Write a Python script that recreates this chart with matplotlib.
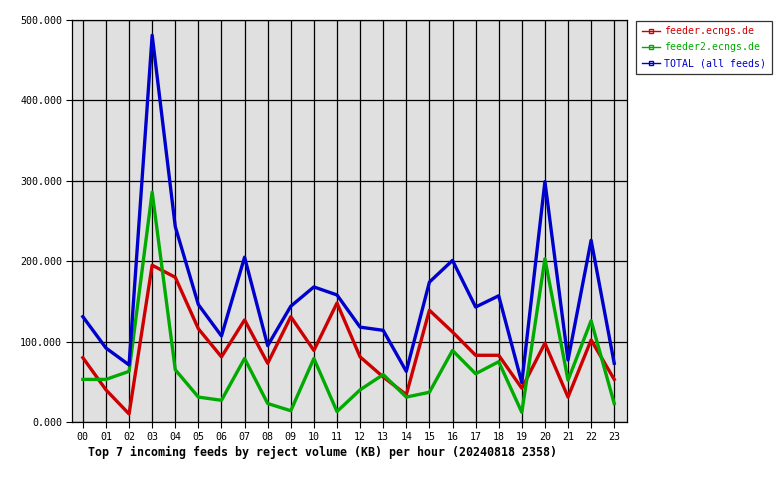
import matplotlib
matplotlib.use("Agg")
import matplotlib.pyplot as plt

# Stunden und Werte (KB) pro Feed
hours = ["%02d" % h for h in range(24)]
feeder = [80, 40, 10, 195, 180, 116, 81, 127, 73, 131, 89, 148,
          81, 56, 34, 139, 112, 83, 83, 42, 98, 31, 102, 53]
feeder2 = [53, 53, 63, 286, 65, 31, 27, 79, 23, 14, 79, 13,
           40, 59, 31, 37, 89, 60, 75, 12, 203, 52, 126, 23]
total = [131, 92, 71, 481, 243, 146, 107, 205, 95, 144, 168, 158,
         118, 114, 63, 174, 201, 143, 157, 49, 299, 77, 226, 73]
yticks = [0, 100, 200, 300, 400, 500]

plt.rcParams['font.family'] = ['DejaVu Sans Mono']

fig = plt.figure(figsize=(7.8, 4.8), dpi=100)
ax = fig.add_axes([72 / 780, 58 / 480, (626.7 - 72) / 780, 402 / 480])
ax.set_facecolor('#e0e0e0')

x = list(range(len(hours)))
series = [(feeder, '#cc0000', 'feeder.ecngs.de'),
          (feeder2, '#00aa00', 'feeder2.ecngs.de'),
          (total, '#0000cc', 'TOTAL (all feeds)')]
handles = []
for vals, col, lab in series:
    ax.plot(x, vals, color=col, lw=2.4, zorder=3)
    # Legendeneintrag: dünne Linie mit kleinem Quadrat
    h, = ax.plot([], [], color=col, lw=1, marker='s', ms=3,
                 mfc='none', mec=col, label=lab)
    handles.append(h)

ax.set_xlim(-0.47, 23.54)
ax.set_ylim(0, 500)
ax.set_xticks(x)
ax.set_xticklabels(hours)
ax.set_yticks(yticks)
ax.set_yticklabels(["%.3f" % v for v in yticks])
ax.tick_params(labelsize=7.2, length=4, width=0.8, color='black', pad=3)
ax.grid(True, color='black', lw=0.9, zorder=1)
ax.set_axisbelow(True)
for s in ax.spines.values():
    s.set_linewidth(0.9)

leg = fig.legend(handles=handles, loc='upper left',
                 bbox_to_anchor=(636 / 780, 1 - 20.5 / 480),
                 borderaxespad=0, fontsize=7.1, frameon=True, fancybox=False,
                 edgecolor='black', handlelength=1.85, handletextpad=0.4,
                 borderpad=0.6, labelspacing=0.6)
leg.get_frame().set_linewidth(0.9)
for t, (_, col, _) in zip(leg.get_texts(), series):
    t.set_color(col)

fig.text(88 / 780, 1 - 452 / 480,
         "Top 7 incoming feeds by reject volume (KB) per hour (20240818 2358)",
         fontsize=8.35, fontweight='bold', ha='left', va='center')

fig.savefig('out.png', dpi=100)
